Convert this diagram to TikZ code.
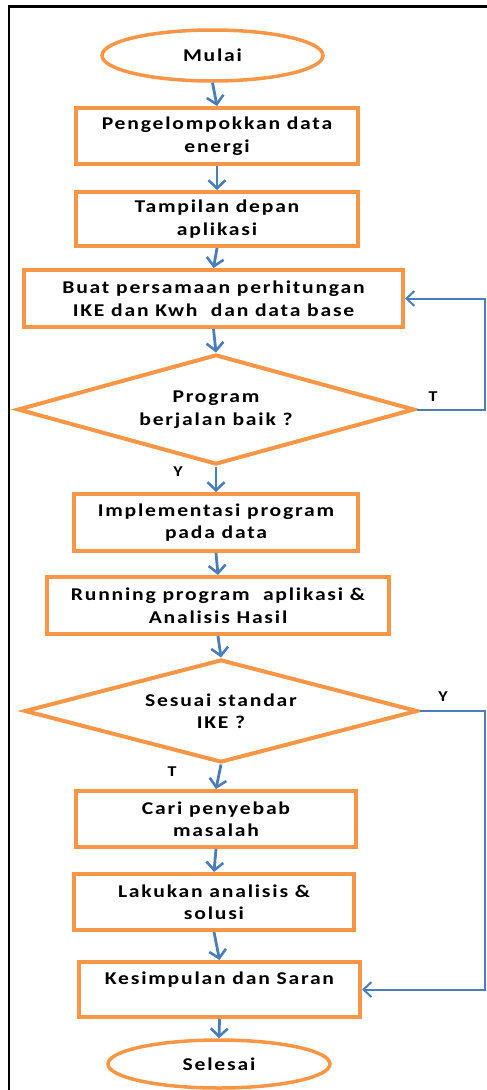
\documentclass[tikz,border=0pt]{standalone}
\usepackage{fontspec}
\setmainfont{Carlito}[FakeStretch=1.2, LetterSpace=10]
\usetikzlibrary{shapes.geometric,arrows.meta}
\definecolor{orng}{HTML}{F79646}
\definecolor{blu}{HTML}{4A7EBB}
\tikzset{
  txt/.style={align=center, font=\fontsize{18}{22.5}\selectfont\bfseries, inner sep=0pt},
  box/.style={txt, draw=orng, line width=4pt, rectangle, fill=white},
  term/.style={txt, draw=orng, line width=3.5pt, ellipse},
  decide/.style={txt, draw=orng, line width=4pt, diamond, aspect=3.6},
  flow/.style={draw=blu, line width=2.8pt, -{Straight Barb[length=8pt,width=17pt,line width=2.6pt]}},
  back/.style={draw=blu, line width=2pt, -{Straight Barb[length=8pt,width=15pt,line width=2pt]}},
  lbl/.style={font=\fontsize{15}{16}\selectfont\bfseries, text=black, inner sep=0pt},
}
\begin{document}
\begin{tikzpicture}[x=1pt,y=-1pt]
\useasboundingbox (0,0) rectangle (487,1090);
\draw[black, line width=2.2pt] (9,1095) -- (9,6.5) -- (492,6.5);

\node[term, minimum width=221pt, minimum height=51pt] (e1) at (212.5,55.5) {Mulai};
\node[box, minimum width=282pt, minimum height=56pt] (b1) at (217,136) {Pengelompokkan data\\energi};
\node[box, minimum width=282pt, minimum height=54pt] (b2) at (217,219) {Tampilan depan\\aplikasi};
\node[box, minimum width=379pt, minimum height=57pt] (b3) at (213.5,298.5) {Buat persamaan perhitungan\\IKE dan Kwh\ \ dan data base};
\node[decide, minimum width=397pt, minimum height=110pt] (d1) at (216,409.5) {Program\\berjalan baik ?};
\node[box, minimum width=284pt, minimum height=57pt] (b4) at (216,522.5) {Implementasi program\\pada data};
\node[box, minimum width=342pt, minimum height=57pt] (b5) at (218,605.5) {Running program\ \ aplikasi \&\\Analisis Hasil};
\node[decide, minimum width=393pt, minimum height=103pt] (d2) at (221,711) {Sesuai standar\\IKE ?};
\node[box, minimum width=280pt, minimum height=56pt] (b6) at (216,819) {Cari penyebab\\masalah};
\node[box, minimum width=280pt, minimum height=56pt] (b7) at (214,902) {Lakukan analisis \&\\solusi};
\node[box, minimum width=281pt, minimum height=55pt] (b8) at (219.5,989.5) {Kesimpulan dan Saran\\~};
\node[term, minimum width=222pt, minimum height=48pt] (e2) at (219,1064) {Selesai};

\draw[flow] (e1.south) -- (b1.north);
\draw[flow] (b1.south) -- (b2.north);
\draw[flow] (b2.south) -- (b3.north);
\draw[flow] (b3.south) -- (d1.north);
\draw[flow] (d1.south) -- (b4.north);
\draw[flow] (b4.south) -- (b5.north);
\draw[flow] (b5.south) -- (d2.north);
\draw[flow] (d2.south) -- (b6.north);
\draw[flow] (b6.south) -- (b7.north);
\draw[flow] (b7.south) -- (b8.north);
\draw[flow] (b8.south) -- (e2.north);

\coordinate (c1) at (485,409.5);
\coordinate (c2) at (485,711);
\draw[back] (d1.east) -- (c1) |- (b3.east);
\draw[back] (d2.east) -- (c2) |- (b8.east);

\node[lbl] (t1) at (433,397) {T};
\node[lbl] (y1) at (178,472) {Y};
\node[lbl] (y2) at (443,697) {Y};
\node[lbl] (t2) at (172,772) {T};
\end{tikzpicture}
\end{document}
